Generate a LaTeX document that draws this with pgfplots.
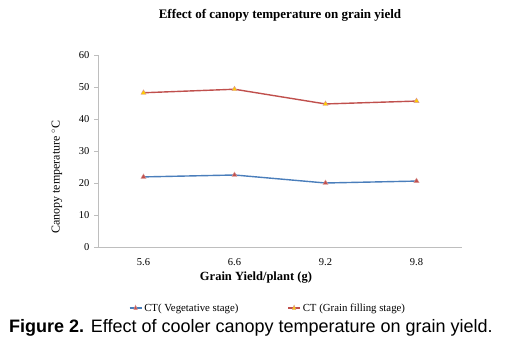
\documentclass[border=0pt]{standalone}
\usepackage{fontspec}
\setmainfont{Liberation Serif}
\newfontfamily\capfont{Liberation Sans}
\usepackage{pgfplots}
\pgfplotsset{compat=1.18}
\definecolor{xlblue}{RGB}{74,126,187}
\definecolor{xlred}{RGB}{192,80,77}
\definecolor{xlyellow}{RGB}{255,204,0}
\definecolor{axgray}{RGB}{190,190,190}
\begin{document}
\begin{tikzpicture}[x=1pt,y=1pt]
\useasboundingbox (0,0) rectangle (506,347);
\begin{axis}[
  at={(98pt,100pt)}, anchor=south west,
  scale only axis, width=364pt, height=192pt,
  xmin=-0.5, xmax=3.5, ymin=0, ymax=60,
  axis x line=bottom, axis y line=left,
  axis line style={axgray, -},
  xtick={0,1,2,3}, xticklabels={5.6,6.6,9.2,9.8},
  ytick={0,10,...,60},
  x tick style={draw=none},
  y tick style={axgray},
  tick align=outside, major tick length=4pt,
  ticklabel style={font=\fontsize{10.5}{12}\selectfont},
  /pgf/number format/assume math mode=true,
  yticklabel style={xshift=-1pt},
  xticklabel style={yshift=-4pt},
  legend style={at={(0.467,-0.318)}, anchor=center, draw=none,
    font=\fontsize{10.8}{12}\selectfont, /tikz/every even column/.append style={column sep=47pt}},
  legend columns=2,
  legend image post style={xscale=0.7},
]
\addplot[xlblue, line width=1.4pt, mark=triangle*, mark size=3pt,
  mark options={fill=xlred, draw=xlred!60!white, line width=0.4pt}]
  coordinates {(0,21.9) (1,22.5) (2,20.0) (3,20.6)};
\addlegendentry{CT( Vegetative stage)}
\addplot[xlred, line width=1.4pt, mark=triangle*, mark size=3pt,
  mark options={fill=xlyellow, draw=xlred!60!white, line width=0.4pt}]
  coordinates {(0,48.2) (1,49.3) (2,44.7) (3,45.6)};
\addlegendentry{CT (Grain filling stage)}
\end{axis}
\node at (280,332) {\fontsize{13}{15}\selectfont\bfseries Effect of canopy temperature on grain yield};
\node at (256,69) {\fontsize{12.5}{14}\selectfont\bfseries Grain Yield/plant (g)};
\node[rotate=90] at (57,170) {\fontsize{12}{14}\selectfont Canopy temperature $^{\circ}$C};
\node at (251,19) {\capfont\fontsize{18}{21}\selectfont\textbf{Figure 2.} Effect of cooler canopy temperature on grain yield.};
\end{tikzpicture}
\end{document}
